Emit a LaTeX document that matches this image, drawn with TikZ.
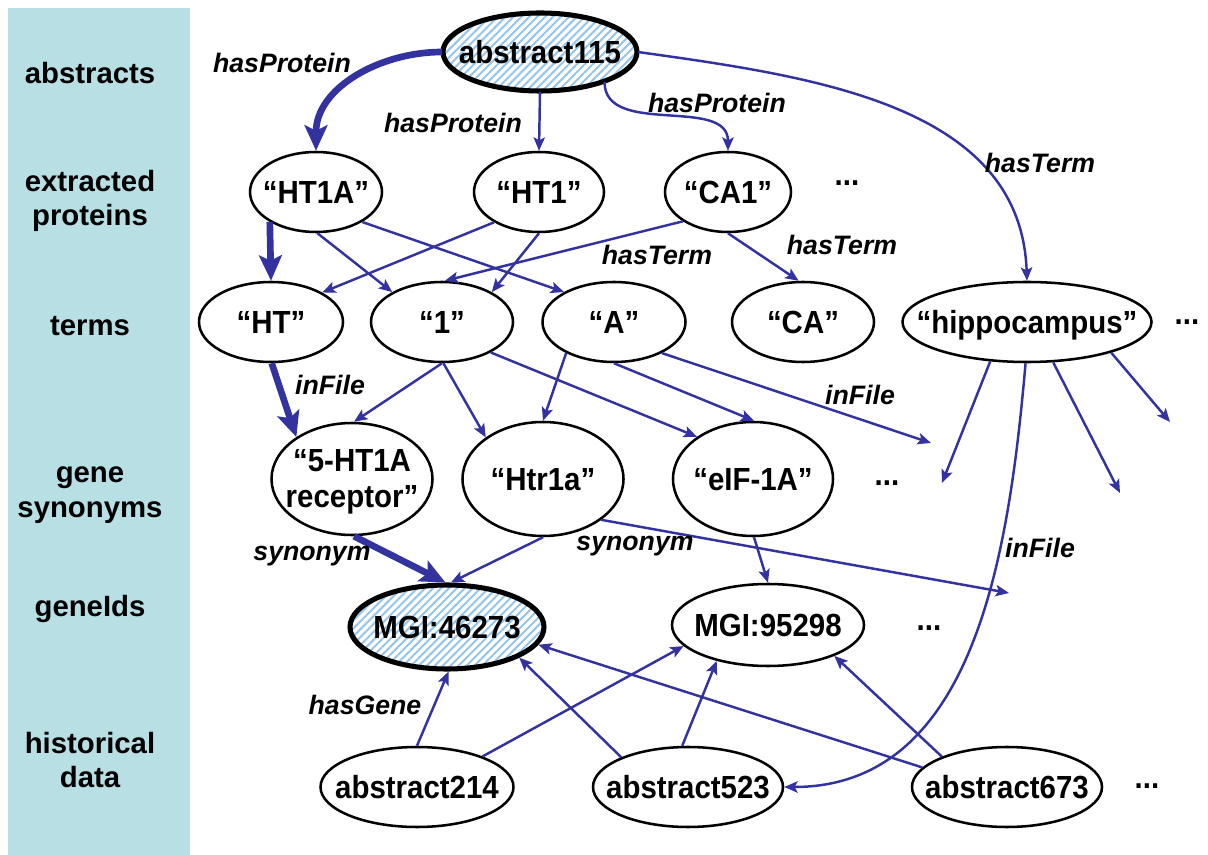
\documentclass[tikz,border=0pt]{standalone}
\usepackage{fontspec}
\setmainfont{Liberation Sans}
\newfontfamily\CondSans{Liberation Sans}[FakeStretch=0.92]
\usetikzlibrary{shapes.geometric, arrows.meta, patterns.meta}
\definecolor{edgeblue}{RGB}{51,51,160}
\definecolor{panel}{RGB}{184,223,227}
\definecolor{hatch}{RGB}{150,196,232}
\newcommand{\NodeFont}{\CondSans\fontsize{24}{27}\selectfont\bfseries}
\newcommand{\LabFont}{\fontsize{20}{24}\selectfont\bfseries\itshape}
\newcommand{\SideFont}{\fontsize{22}{26}\selectfont\bfseries}
\newcommand{\ctr}[1]{\makebox[0pt]{\raisebox{-8.6pt}[0pt][0pt]{#1}}}
\begin{document}
\begin{tikzpicture}[x=0.75pt,y=-0.75pt,
  ent/.style={ellipse, draw, line width=1.9pt, inner sep=0pt, font=\NodeFont},
  hl/.style={ent, line width=3.8pt, pattern={Lines[angle=45,distance=4.2pt,line width=1.5pt]}, pattern color=hatch},
  sz/.style n args={2}{minimum width=#1*0.75pt, minimum height=#2*0.75pt},
  lab/.style={font=\LabFont, inner sep=0pt},
  side/.style={font=\SideFont, align=center, inner sep=0pt},
  dots/.style={font=\NodeFont, inner sep=0pt},
  conn/.style={draw=edgeblue, line width=1.85pt, -{Stealth[length=10pt,width=8.5pt,inset=2.2pt]}},
  bigconn/.style={draw=edgeblue, line width=5pt, -{Stealth[length=19pt,width=17pt,inset=4pt]}},
]
\useasboundingbox (0,0) rectangle (1208,855);
\fill[panel] (8,8) rectangle (190,855);
% side labels
\node[side] (s1) at (90,73) {abstracts};
\node[side] (s2) at (90,201) {extracted\\proteins};
\node[side] (s3) at (90,326) {terms};
\node[side] (s4) at (90,495) {gene\\synonyms};
\node[side] (s5) at (90,609) {geneIds};
\node[side] (s6) at (90,760) {historical\\data};
% nodes
\node[hl, sz={194}{78}] (a115) at (540,52) {\ctr{abstract115}};
\node[ent, sz={132}{80}] (HT1A) at (316,192) {\ctr{“HT1A”}};
\node[ent, sz={130}{80}] (HT1) at (539,192) {\ctr{“HT1”}};
\node[ent, sz={126}{80}] (CA1) at (728,192) {\ctr{“CA1”}};
\node[dots] (d1) at (847,183) {...};
\node[ent, sz={144}{80}] (HT) at (271,322) {\ctr{“HT”}};
\node[ent, sz={142}{80}] (one) at (442,322) {\ctr{“1”}};
\node[ent, sz={143}{80}] (A) at (614,322) {\ctr{“A”}};
\node[ent, sz={142}{80}] (CA) at (803,322) {\ctr{“CA”}};
\node[ent, sz={249}{80}] (hippo) at (1027,322) {\ctr{“hippocampus”}};
\node[dots] (d2) at (1187,322) {...};
\node[ent, sz={161}{112}] (syn5) at (352,479) {\ctr{\begin{tabular}{@{}c@{}}“5-HT1A\\receptor”\end{tabular}}};
\node[ent, sz={161}{114}] (Htr) at (543,479) {\ctr{“Htr1a”}};
\node[ent, sz={160}{114}] (eIF) at (753,479) {\ctr{“eIF-1A”}};
\node[dots] (d3) at (887,483) {...};
\node[hl, sz={194}{84}] (MGI1) at (447,627) {\ctr{MGI:46273}};
\node[ent, sz={192}{82}] (MGI2) at (768,625) {\ctr{MGI:95298}};
\node[dots] (d4) at (929,628) {...};
\node[ent, sz={193}{80}] (ab214) at (417,787) {\ctr{abstract214}};
\node[ent, sz={190}{80}] (ab523) at (688,787) {\ctr{abstract523}};
\node[ent, sz={190}{80}] (ab673) at (1007,787) {\ctr{abstract673}};
\node[dots] (d5) at (1147,786) {...};
% free ends
\coordinate (f1) at (931,443);
\coordinate (f2) at (942,483);
\coordinate (f3) at (1120,493);
\coordinate (f4) at (1170,422);
\coordinate (f5) at (1009,593);
% connectors
\draw[bigconn] (a115.180) to[out=180,in=90] (HT1A.north);
\draw[conn] (a115.south) -- (HT1.north);
\draw[conn] (a115.-25) to[out=-90,in=90] (CA1.north);
\draw[conn] (a115.east) to[out=-8,in=92] (hippo.north);
\draw[bigconn] (HT1A.-147) -- (HT.north);
\draw[conn] (HT1A.-88) -- (one.149);
\draw[conn] (HT1A.-33) -- (A.149);
\draw[conn] (HT1.-146) -- (HT.30);
\draw[conn] (HT1.-90) -- (one.31);
\draw[conn] (CA1.-147) -- (one.86);
\draw[conn] (CA1.-90) -- (CA.96);
\draw[bigconn] (HT.-89) -- (syn5.143);
\draw[conn] (one.-90) -- (syn5.88);
\draw[conn] (one.-88) -- (Htr.144);
\draw[conn] (one.-32) -- (eIF.143);
\draw[conn] (A.-147) -- (Htr.north);
\draw[conn] (A.-90) -- (eIF.89);
\draw[conn] (A.-33) -- (f1);
\draw[conn] (hippo.-133) -- (f2);
\draw[conn] (hippo.-92) to[out=-95,in=0] (ab523.east);
\draw[conn] (hippo.-57) -- (f3);
\draw[conn] (hippo.-20) -- (f4);
\draw[bigconn] (syn5.-88) -- (MGI1.92);
\draw[conn] (Htr.-90) -- (MGI1.85);
\draw[conn] (Htr.-35) -- (f5);
\draw[conn] (eIF.-89) -- (MGI2.north);
\draw[conn] (ab214.north) -- (MGI1.-88);
\draw[conn] (ab214.25) -- (MGI2.194);
\draw[conn] (ab523.156) -- (MGI1.-23);
\draw[conn] (ab523.98) -- (MGI2.-145);
\draw[conn] (ab673.167) -- (MGI1.-11);
\draw[conn] (ab673.155) -- (MGI2.-25);
% edge labels
\node[lab] (l1) at (282,63) {hasProtein};
\node[lab] (l2) at (453,123) {hasProtein};
\node[lab] (l3) at (717,103) {hasProtein};
\node[lab] (l4) at (1040,163) {hasTerm};
\node[lab] (l5) at (657,255) {hasTerm};
\node[lab] (l6) at (842,245) {hasTerm};
\node[lab] (l7) at (330,385) {inFile};
\node[lab] (l8) at (860,395) {inFile};
\node[lab] (l9) at (1040,548) {inFile};
\node[lab] (l10) at (312,556) {synonym};
\node[lab] (l11) at (635,546) {synonym};
\node[lab] (l12) at (365,705) {hasGene};
\end{tikzpicture}
\end{document}
